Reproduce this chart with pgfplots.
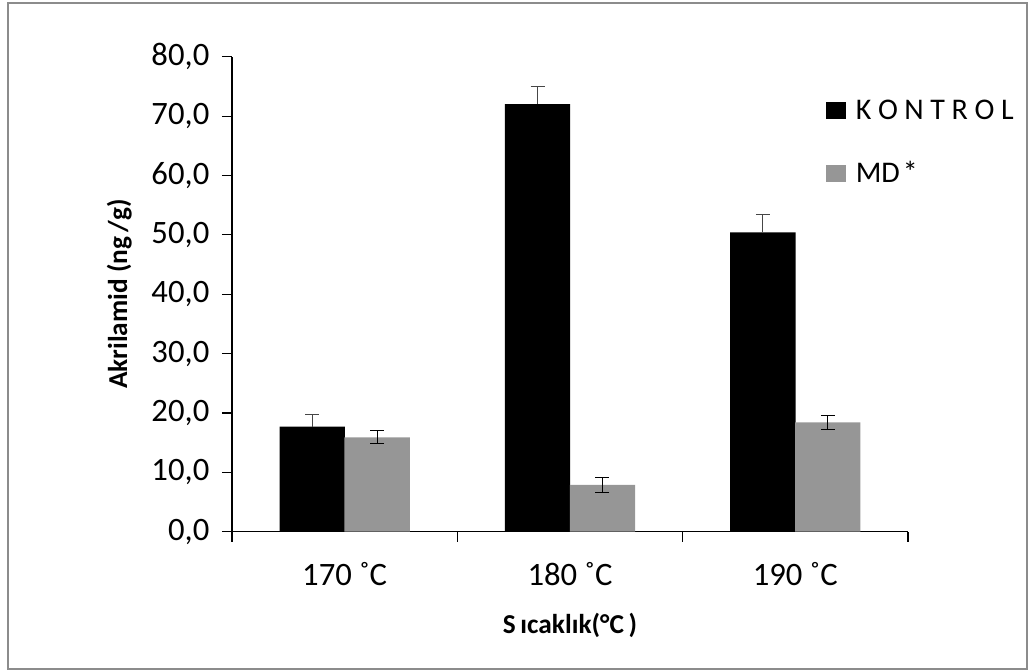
\documentclass[border=0pt]{standalone}
\usepackage{fontspec}
\setmainfont{Carlito}
\usepackage{pgfplots}
\pgfplotsset{compat=1.18}

\definecolor{barg}{RGB}{150,150,150}
\definecolor{framegray}{RGB}{140,140,140}
\definecolor{errg}{RGB}{70,70,70}
\newcommand{\ls}{\hspace{0.22em}}

\begin{document}
\begin{tikzpicture}
% 1 px = 0.75pt, axis origin at pixel (232, 531.7)
\path[use as bounding box] (-174pt,-103.8pt) rectangle (598.5pt,398.8pt);
\draw[framegray, line width=1.2pt] (-168pt,-102.8pt) rectangle (596.2pt,396.5pt);
\begin{axis}[
    at={(0pt,0pt)}, anchor=south west,
    scale only axis,
    width=507pt, height=356.25pt,
    xmin=0, xmax=3, ymin=0, ymax=80,
    axis lines=left,
    axis line style={-, black, line width=0.8pt},
    tick style={black, line width=0.8pt},
    tick align=outside,
    major tick length=7.5pt,
    xtick={0,1,2,3},
    xticklabels={170 ˚C,180 ˚C,190 ˚C,},
    x tick label as interval,
    ytick={0,10,...,80},
    /pgf/number format/.cd, fixed, fixed zerofill, precision=1, use comma, assume math mode=true,
    /pgfplots/.cd,
    ticklabel style={font=\fontsize{24.5}{28}\selectfont},
    yticklabel style={xshift=-6pt},
    xticklabel style={yshift=-12pt},
    ylabel={\textbf{Akrilamid (ng\,/g)}},
    xlabel={\textbf{S\,ıcaklık(°C\,)}},
    label style={font=\fontsize{20.5}{24}\selectfont},
    ylabel style={yshift=8pt},
    xlabel style={yshift=-14pt},
    ybar, bar width=0.29,
    legend style={at={(0.879,0.915)}, anchor=north west, draw=none, fill=none,
        inner sep=0pt, font=\fontsize{22.5}{26}\selectfont, row sep=26pt,
        /tikz/every odd column/.append style={column sep=5pt}},
    legend cell align=left,
]
\addplot[fill=black, draw=none, bar shift=-0.144,
    legend image code/.code={\fill[black] (0pt,-6.4pt) rectangle (15pt,6.4pt);},
    error bars/.cd, y dir=plus, y explicit,
    error bar style={errg, line width=0.9pt},
    error mark options={errg, line width=0.9pt, mark size=5.25pt, rotate=90}]
coordinates {
(0.5,17.7) +- (0,2.1)
(1.5,72.0) +- (0,3.0)
(2.5,50.4) +- (0,3.0)
};
\addlegendentry{K\ls O\ls N\ls T\ls R\ls O\ls L}
\addplot[fill=barg, draw=none, bar shift=0.144,
    legend image code/.code={\fill[barg] (0pt,-6.4pt) rectangle (15pt,6.4pt);},
    error bars/.cd, y dir=both, y explicit,
    error bar style={black, line width=0.9pt},
    error mark options={black, line width=0.9pt, mark size=5.25pt, rotate=90}]
coordinates {
(0.5,15.9) +- (0,1.1)
(1.5,7.9) +- (0,1.3)
(2.5,18.4) +- (0,1.2)
};
\addlegendentry{MD\hspace{0.1em}*}
\end{axis}
\end{tikzpicture}
\end{document}
